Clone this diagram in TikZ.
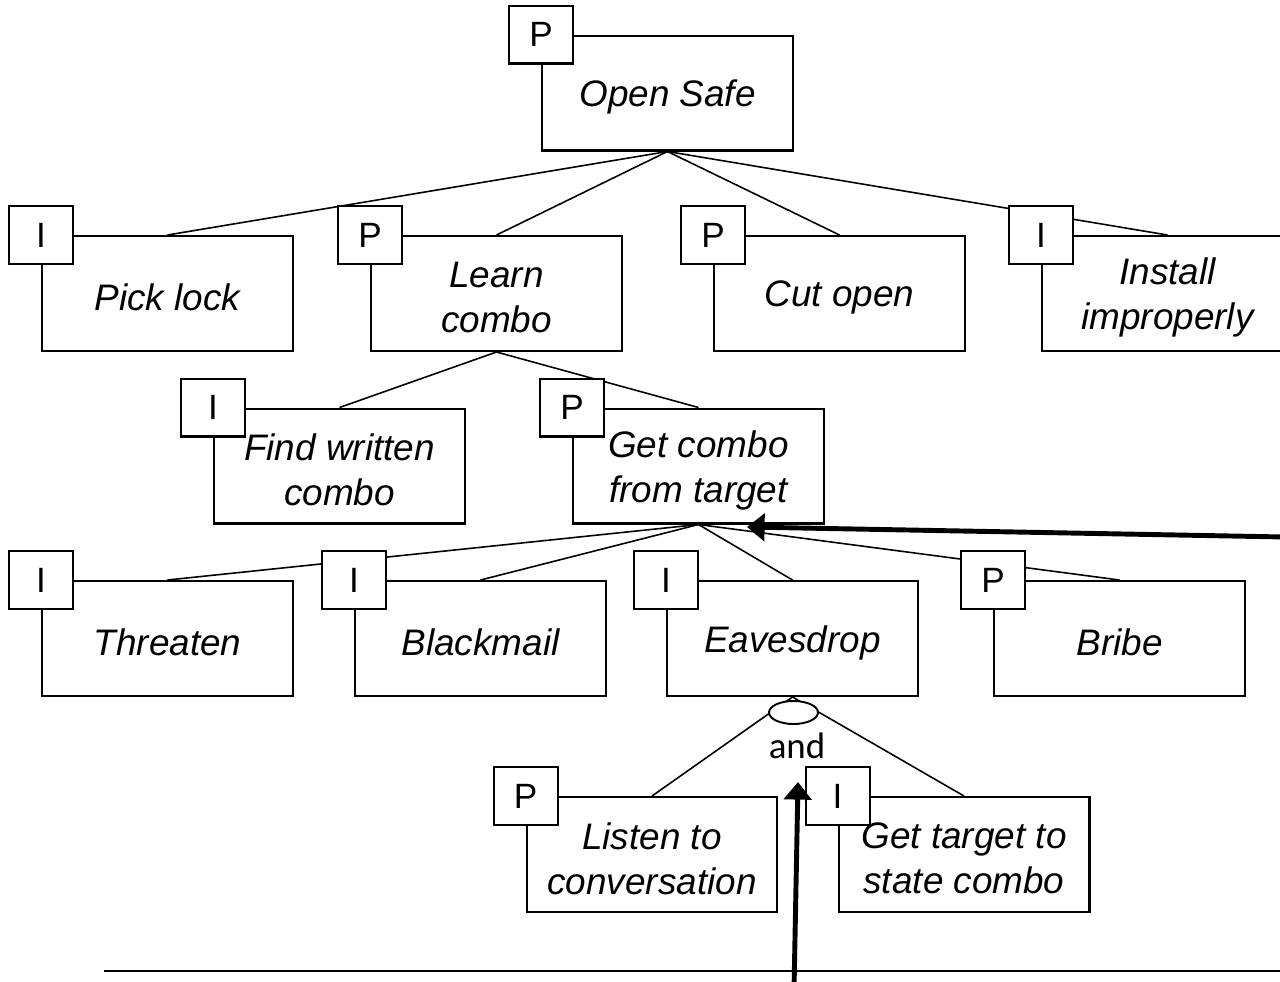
\documentclass[tikz,border=0pt]{standalone}
\usepackage{fontspec}
\setmainfont{Liberation Sans}
\newfontfamily\andfont{Carlito}
\usetikzlibrary{shapes.geometric,arrows.meta,backgrounds}

% one attack step: framed box, its P/I tag on the top-left corner, and the italic caption
\newcommand\attacknode[5]{%
  \node[box] (#1) at (#2,#3) {};
  \node[tag] (#1-tag) at (#1.north west) {#4};
  \node[lbl] (#1-text) at (#1.center) {#5};}

\begin{document}
\begin{tikzpicture}[x=0.02cm,y=-0.02cm,
  box/.style={draw,fill=white,line width=1.15pt,minimum width=5.02cm,
    minimum height=2.3cm,inner sep=0pt},
  tag/.style={draw,fill=white,line width=1.15pt,minimum width=1.28cm,
    minimum height=1.16cm,inner sep=0pt,font=\fontsize{20}{24}\selectfont},
  lbl/.style={align=center,inner sep=0pt,yshift=-0.08cm,
    font=\fontsize{21}{25.6}\selectfont\itshape},
  link/.style={line width=0.9pt},
  pointer/.style={line width=2.8pt,-{Triangle[length=10pt,width=15.5pt]}},
]
\useasboundingbox (0,0) rectangle (1280,981);
\clip (0,0) rectangle (1280,981);

% root
\attacknode{os}{667.5}{93}{P}{Open Safe}
% first level
\attacknode{pl}{167.5}{293.5}{I}{Pick lock}
\attacknode{lc}{496.5}{293.5}{P}{Learn\\combo}
\attacknode{co}{839.5}{293.5}{P}{Cut open}
\attacknode{ii}{1167.5}{293.5}{I}{Install\\improperly}
% second level
\attacknode{fw}{339.5}{466}{I}{Find written\\combo}
\attacknode{gc}{698.5}{466}{P}{Get combo\\from target}
% third level
\attacknode{th}{167.5}{638.5}{I}{Threaten}
\attacknode{bm}{480.5}{638.5}{I}{Blackmail}
\attacknode{ev}{792.5}{638.5}{I}{Eavesdrop}
\attacknode{br}{1119.5}{638.5}{P}{Bribe}
% fourth level
\attacknode{li}{652}{854.5}{P}{Listen to\\conversation}
\attacknode{gt}{964}{854.5}{I}{Get target to\\state combo}

% AND gate under Eavesdrop
\node[ellipse,draw,fill=white,line width=1.1pt,minimum width=0.98cm,
  minimum height=0.46cm,inner sep=0pt] (andgate) at (793.5,712.5) {};
\node[inner sep=0pt,font=\andfont\fontsize{21}{25}\selectfont] (andlabel)
  at (797,746) {and};

% tree edges, behind the boxes
\begin{pgfonlayer}{background}
  \draw[link] (os.south) -- (pl.north);
  \draw[link] (os.south) -- (lc.north);
  \draw[link] (os.south) -- (co.north);
  \draw[link] (os.south) -- (ii.north);
  \draw[link] (lc.south) -- (fw.north);
  \draw[link] (lc.south) -- (gc.north);
  \draw[link] (gc.south) -- (th.north);
  \draw[link] (gc.south) -- (bm.north);
  \draw[link] (gc.south) -- (ev.north);
  \draw[link] (gc.south) -- (br.north);
  \draw[link] (ev.south) -- (li.north);
  \draw[link] (ev.south) -- (gt.north);
\end{pgfonlayer}

% pointers and base line
\coordinate (hstart) at (1285,537);
\coordinate (htip) at (747,527);
\draw[pointer] (hstart) -- (htip);
\coordinate (vstart) at (794,990);
\coordinate (vtip) at (798,782);
\draw[pointer] (vstart) -- (vtip);
\coordinate (baseL) at (104,971);
\coordinate (baseR) at (1285,971);
\draw[line width=1.4pt] (baseL) -- (baseR);
\end{tikzpicture}
\end{document}
